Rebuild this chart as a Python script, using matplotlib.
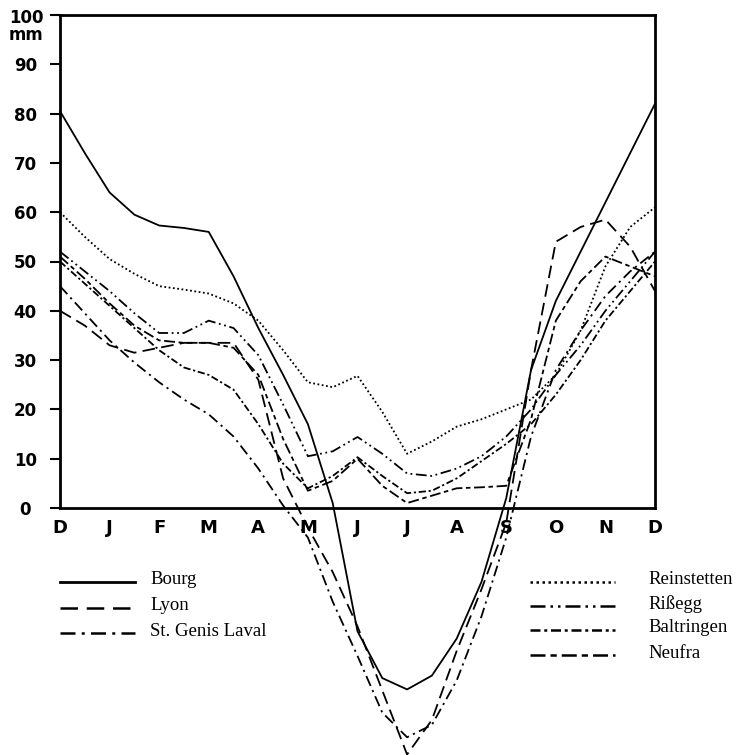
import matplotlib
matplotlib.use("Agg")
import matplotlib.pyplot as plt
from matplotlib.lines import Line2D
import matplotlib.transforms as mtransforms

# months from December (0) to December (12), half-month steps
months = [i * 0.5 for i in range(25)]
month_labels = ["D", "J", "F", "M", "A", "M", "J", "J", "A", "S", "O", "N", "D"]
y_ticks = [0, 10, 20, 30, 40, 50, 60, 70, 80, 90, 100]

bourg = [80.5, 72, 64, 59.5, 57.3, 56.8, 56, 47, 36.5, 27, 17, 1, -25, -34.5, -36.8,
         -34, -26.5, -15, 2, 28, 42, 52, 62, 72, 82]
lyon = [40, 37, 33, 31.5, 32.5, 33.5, 33.5, 33.5, 26, 6, -4, -13, -24, -37, -50,
        -43, -29, -16.5, -3, 28, 54, 57, 58.5, 53, 44]
st_genis = [45, 39.5, 34, 29.5, 25.5, 22, 19, 14.5, 8, 0.5, -6, -19, -30, -41.5, -46.5,
            -44, -35, -22, -6, 14.5, 28, 36, 43, 48, 52]
reinstetten = [60, 55, 50.5, 47.5, 45, 44.3, 43.5, 41.5, 38, 32, 25.5, 24.5, 26.8, 19.5, 11,
               13.5, 16.5, 18, 20, 22, 27, 36, 49, 57, 61]
rissegg = [52, 48, 44, 39.5, 35.5, 35.5, 38, 36.5, 31, 21, 10.5, 11.5, 14.4, 11, 7,
           6.5, 8, 10.5, 14.5, 20, 27, 33, 40, 46, 52]
baltringen = [50, 45.5, 41, 36.5, 32, 28.5, 27, 24, 17, 9, 4, 6.5, 10.3, 6.5, 3,
              3.5, 6, 9.5, 13, 17, 23, 30, 38, 44, 50]
neufra = [51, 46.5, 41.5, 37, 34, 33.5, 33.5, 32.5, 27, 14, 3.5, 5.5, 10, 4.5, 1,
          2.5, 4, 4.2, 4.5, 18, 38, 46, 51, 49, 47]

left_names = ["Bourg", "Lyon", "St. Genis Laval"]
right_names = ["Reinstetten", "Rißegg", "Baltringen", "Neufra"]

styles = {
    "Bourg": "-",
    "Lyon": (0, (7, 3.5)),
    "St. Genis Laval": (0, (6, 2.5, 1.2, 2.5)),
    "Reinstetten": (0, (1, 1.4)),
    "Rißegg": (0, (6, 2, 1, 2, 1, 2)),
    "Baltringen": (0, (4, 1.5, 1.2, 1.5)),
    "Neufra": (0, (6, 2, 2.5, 2)),
}
series = {
    "Bourg": bourg,
    "Lyon": lyon,
    "St. Genis Laval": st_genis,
    "Reinstetten": reinstetten,
    "Rißegg": rissegg,
    "Baltringen": baltringen,
    "Neufra": neufra,
}

W, H = 756, 755
fig = plt.figure(figsize=(W / 100, H / 100), dpi=100)
ax = fig.add_axes([60 / W, 1 - 508 / H, 595 / W, 493 / H])

for name in left_names + right_names:
    ax.plot(months, series[name], color="black", lw=1.3, linestyle=styles[name],
            clip_on=False, solid_joinstyle="round", dash_joinstyle="round")

ax.set_xlim(0, 12)
ax.set_ylim(0, 100)
for s in ax.spines.values():
    s.set_linewidth(2)

ax.set_xticks(range(13))
ax.set_xticklabels(month_labels, fontsize=13, fontweight="bold")
ax.tick_params(axis="x", length=0, pad=8)
ax.set_yticks(y_ticks)
ax.set_yticklabels([str(v) for v in y_ticks[:-1]] + ["100\nmm"], fontsize=12,
                   fontweight="bold", linespacing=0.9)
ax.tick_params(axis="y", length=7, width=1.5, pad=18)
for lab in ax.get_yticklabels():
    lab.set_horizontalalignment("center")
# the top label sits just under the 100 line, with the unit below it
lab = ax.get_yticklabels()[-1]
lab.set_verticalalignment("top")
lab.set_transform(ax.get_yaxis_transform()
                  + mtransforms.ScaledTranslation(-34 / 100, 6 / 100, fig.dpi_scale_trans))

# legend drawn by hand below the chart, in two blocks
def legend_block(names, x0, x1, xt, ys):
    for name, yy in zip(names, ys):
        fig.add_artist(Line2D([x0 / W, x1 / W], [1 - yy / H, 1 - yy / H], color="black",
                              lw=2 if name == "Bourg" else 1.8, linestyle=styles[name]))
        fig.text(xt / W, 1 - (yy - 2) / H, name, fontsize=13.5, family="Liberation Serif",
                 va="center", ha="left")

legend_block(left_names, 60, 135, 150, [582, 608, 633])
legend_block(right_names, 530, 615, 648, [582, 606, 630, 655])

fig.savefig("out.png", dpi=100)
